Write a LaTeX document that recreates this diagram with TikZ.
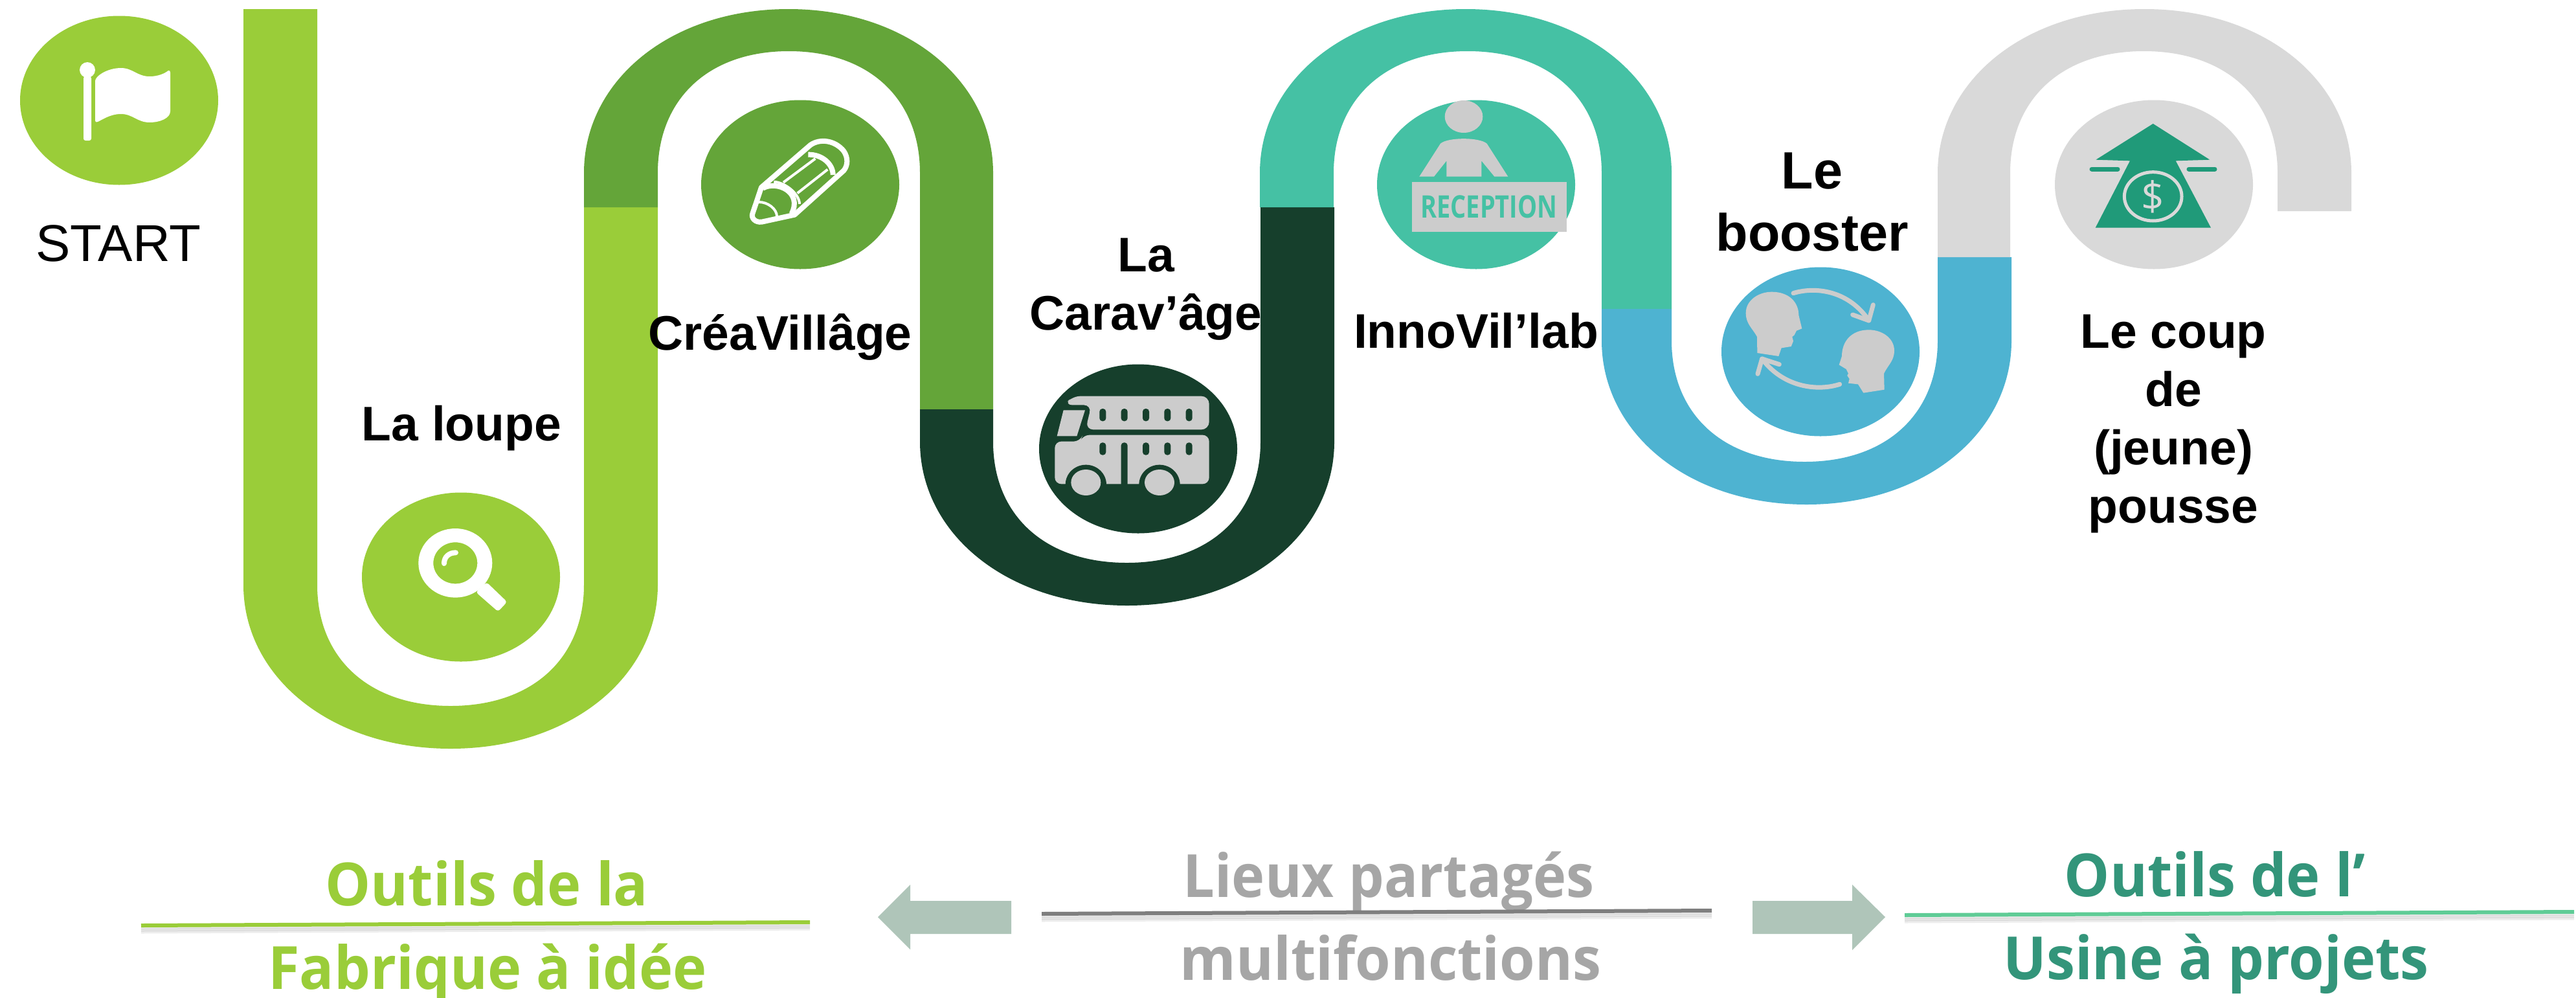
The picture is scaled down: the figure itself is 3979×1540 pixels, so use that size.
\documentclass[tikz,border=0pt]{standalone}
\usepackage{fontspec}
\usepackage{graphicx}
\usetikzlibrary{shapes.geometric}
\setmainfont{Liberation Sans}
\newfontfamily\osans{Open Sans}
\definecolor{segA}{HTML}{9ACD39}
\definecolor{segB}{HTML}{64A539}
\definecolor{segC}{HTML}{163F2C}
\definecolor{segD}{HTML}{45C1A4}
\definecolor{segE}{HTML}{4EB3D1}
\definecolor{segF}{HTML}{D9D9D9}
\definecolor{icongrey}{HTML}{CCCCCC}
\definecolor{arrowfill}{HTML}{AFC5B9}
\definecolor{txtgrey}{HTML}{A6A6A6}
\definecolor{txtteal}{HTML}{33957A}
\definecolor{linegrey}{HTML}{7F7F7F}
\definecolor{lineteal}{HTML}{5FCC96}
\definecolor{dollar}{HTML}{209A79}
\newcommand\pcol{segA}
\newcommand\lowtxt[1]{\scalebox{0.96}[1]{#1}}
% xo1 xi1 xi2 xo2 yL yR ystraight yinner youter
\newcommand\pipe[9]{%
  \pgfmathsetmacro\xmo{(#1+#4)/2}%
  \pgfmathsetmacro\xmi{(#2+#3)/2}%
  \pgfmathsetmacro\co{#7+0.56*(#9-#7)}%
  \pgfmathsetmacro\ci{#7+0.60*(#8-#7)}%
  \pgfmathsetmacro\aol{\xmo-0.58*(\xmo-#1)}%
  \pgfmathsetmacro\aor{\xmo+0.58*(#4-\xmo)}%
  \pgfmathsetmacro\ail{\xmi-0.62*(\xmi-#2)}%
  \pgfmathsetmacro\air{\xmi+0.62*(#3-\xmi)}%
  \fill[\pcol] (#1,#5) -- (#1,#7) .. controls (#1,\co) and (\aol,#9) .. (\xmo,#9)
    .. controls (\aor,#9) and (#4,\co) .. (#4,#7) -- (#4,#6) -- (#3,#6) -- (#3,#7)
    .. controls (#3,\ci) and (\air,#8) .. (\xmi,#8)
    .. controls (\ail,#8) and (#2,\ci) .. (#2,#7) -- (#2,#5) -- cycle;%
}
\tikzset{
  disc/.style={ellipse,inner sep=0pt,outer sep=0pt,minimum width=306pt,minimum height=261pt},
  lab/.style={font=\bfseries\fontsize{75}{90}\selectfont,align=center,inner sep=0pt,text=black},
  low/.style={font=\osans\bfseries\fontsize{92}{110}\selectfont,inner sep=0pt,anchor=base},
  rule/.style={line width=6pt},
  ruleshadow/.style={line width=5pt,draw=black,opacity=0.07},
  sidearrow/.style={fill=arrowfill,draw=none},
  zoomed/.style={x=0.33333pt,y=-0.33333pt},
}
\begin{document}
\begin{tikzpicture}[x=1pt,y=-1pt]
\useasboundingbox (0,0) rectangle (3979,1540);
\fill[white] (0,0) rectangle (3979,1540);

% serpentine
\renewcommand\pcol{segA}\pipe{376}{490}{902}{1016}{14}{320}{903}{1090}{1156}
\renewcommand\pcol{segB}\pipe{902}{1016}{1421}{1534}{320}{632}{267}{79}{14}
\renewcommand\pcol{segC}\pipe{1421}{1534}{1947}{2061}{632}{320}{682}{869}{935}
\renewcommand\pcol{segD}\pipe{1946}{2060}{2474}{2582}{320}{477}{267}{79}{14}
\renewcommand\pcol{segE}\pipe{2474}{2582}{2993}{3107}{477}{397}{526}{713}{779}
\renewcommand\pcol{segF}\pipe{2993}{3105}{3518}{3632}{397}{326}{267}{79}{14}

% discs
\node[disc,fill=segA] (dStart) at (184,155) {};
\node[disc,fill=segA] (dLoupe) at (712,891) {};
\node[disc,fill=segB] (dCrea) at (1236,285) {};
\node[disc,fill=segC] (dCarav) at (1758,693) {};
\node[disc,fill=segD] (dInno) at (2280,285) {};
\node[disc,fill=segE] (dBoost) at (2812,543) {};
\node[disc,fill=segF] (dCoup) at (3327,285) {};

% flag
\begin{scope}[white]
\fill[rounded corners=3pt] (129,118) rectangle (141,217);
\fill (135,108) ellipse[x radius=12,y radius=12];
\fill (147,125) .. controls (147,118) and (165,105) .. (187,105)
  .. controls (205,105) and (212,118) .. (231,118)
  .. controls (245,118) and (255,113) .. (260,109)
  .. controls (262,108) and (263,110) .. (263,112) -- (263,172)
  .. controls (263,182) and (248,189) .. (231,189)
  .. controls (212,189) and (205,176) .. (187,176)
  .. controls (170,176) and (158,185) .. (151,188)
  .. controls (148,189) and (147,188) .. (147,186) -- cycle;
\end{scope}

% magnifier
\begin{scope}[shift={(500,720)},zoomed]
\fill[white,even odd rule] (610,448) ellipse[x radius=171,y radius=160]
   (610,448) ellipse[x radius=102,y radius=96];
\fill[white,rounded corners=4pt] (755,537) -- (850,628) -- (808,673) -- (705,583) -- cycle;
\draw[white,line width=8pt,line cap=round] (558,450) .. controls (558,420) and (580,400) .. (612,400);
\end{scope}

% pencil
\begin{scope}[shift={(1000,150)},zoomed]
\draw[white,line width=8pt,line join=round] (528,418) -- (755,222)
  .. controls (800,190) and (870,200) .. (910,250)
  .. controls (930,280) and (930,315) .. (910,340) -- (682,545)
  -- (530,578) .. controls (500,582) and (480,560) .. (487,540) -- cycle;
\draw[white,line width=8pt] (745,266) .. controls (810,265) and (860,310) .. (860,360);
\draw[white,line width=8pt] (535,422) .. controls (600,385) and (720,440) .. (668,540);
\draw[white,line width=4pt] (515,486) .. controls (560,485) and (600,520) .. (600,552);
\draw[white,line width=4pt] (586,392) .. controls (640,395) and (705,450) .. (705,495);
\draw[white,line width=4pt] (630,395) -- (778,285);
\draw[white,line width=4pt] (695,445) -- (835,335);
\end{scope}

% bus
\begin{scope}[shift={(1500,500)},zoomed]
\fill[icongrey,rounded corners=12pt] (432,376) -- (470,335) -- (1103,335) -- (1103,490) -- (530,490) -- (558,376) -- cycle;
\fill[icongrey] (428,400) -- (528,400) -- (490,520) -- (398,520) -- cycle;
\fill[icongrey,rounded corners=10pt] (388,545) -- (505,545) -- (518,515) -- (1103,515) -- (1103,742) -- (388,742) -- cycle;
\foreach \wx in {532,873} {
  \fill[segC] (\wx,745) ellipse[x radius=95,y radius=92];
  \fill[segC] (\wx-95,745) rectangle (\wx+95,810);
  \fill[icongrey] (\wx,735) ellipse[x radius=69,y radius=60];
}
\foreach \wx in {610,710,810,910,1010} {
  \fill[segC,rounded corners=4.5pt] (\wx-15,393) rectangle (\wx+15,451);
}
\foreach \wx in {610,810,910,1010} {
  \fill[segC,rounded corners=4.5pt] (\wx-15,550) rectangle (\wx+15,608);
}
\fill[segC,rounded corners=4.5pt] (695,550) rectangle (725,770);
\end{scope}

% reception
\begin{scope}[shift={(2050,100)},zoomed]
\fill[icongrey] (633,240) ellipse[x radius=88,y radius=75];
\fill[icongrey] (427,518) -- (525,365) .. controls (560,335) and (705,335) .. (740,365)
  -- (838,518) -- (775,518) -- (715,445) -- (715,518) -- (553,518) -- (553,445) -- (495,518) -- cycle;
\node[rectangle,fill=icongrey,inner sep=0pt,minimum width=239pt,minimum height=77pt] (sign) at (750,657.5) {};
\node[inner sep=0pt,text=segD,font=\osans\bfseries\fontsize{48}{48}\selectfont] (signtext) at (750,657) {\scalebox{0.79}[1]{RECEPTION}};
\end{scope}

% heads
\begin{scope}[shift={(2600,380)},zoomed]
\fill[icongrey] (343,495) -- (342,420) .. controls (320,380) and (290,360) .. (290,310)
  .. controls (290,250) and (350,212) .. (410,212)
  .. controls (490,212) and (535,260) .. (535,320)
  -- (550,382) -- (525,392) -- (515,412) -- (505,420) -- (510,440) -- (500,465) -- (455,472) -- (442,510) -- cycle;
\fill[icongrey] (932,665) -- (930,590) .. controls (950,550) and (978,530) .. (978,485)
  .. controls (978,425) and (920,388) .. (860,388)
  .. controls (780,388) and (735,440) .. (735,510)
  -- (722,550) -- (755,570) -- (765,590) -- (760,600) -- (770,615) -- (765,635) -- (810,640) -- (835,680) -- cycle;
\draw[icongrey,line width=7pt,line cap=round,line join=round]
  (510,218) .. controls (620,185) and (770,210) .. (860,345);
\draw[icongrey,line width=7pt,line cap=round,line join=round]
  (785,318) -- (860,345) -- (880,272);
\draw[icongrey,line width=7pt,line cap=round,line join=round]
  (725,640) .. controls (615,675) and (460,650) .. (365,522);
\draw[icongrey,line width=7pt,line cap=round,line join=round]
  (445,548) -- (365,522) -- (345,592);
\end{scope}

% dollar arrow
\begin{scope}[shift={(3100,130)},zoomed]
\fill[dollar] (677,183) -- (940,350) -- (782,355) -- (945,665) -- (410,665) -- (570,355) -- (412,350) -- cycle;
\draw[dollar,line width=7pt,line cap=round] (393,393) -- (513,393);
\draw[dollar,line width=7pt,line cap=round] (843,393) -- (963,393);
\draw[segF,line width=5pt] (677,520) ellipse[x radius=133,y radius=113];
\node[inner sep=0pt,text=segF,font=\osans\fontsize{62}{62}\selectfont] (dollarsign) at (677,520) {\$};
\end{scope}

% labels
\node[inner sep=0pt,font=\fontsize{80}{90}\selectfont,anchor=base] (tStart) at (183,403) {START};
\node[lab,anchor=base] (tLoupe) at (713,680) {La loupe};
\node[lab,anchor=base] (tCrea) at (1205,540) {CréaVillâge};
\node[lab] (tCarav) at (1770,447) {La\\Carav’âge};
\node[lab,anchor=base] (tInno) at (2280,537) {InnoVil’lab};
\node[lab,font=\bfseries\fontsize{81}{96}\selectfont] (tBoost) at (2799,312) {Le\\booster};
\node[lab] (tCoup) at (3357,654) {Le coup\\de\\(jeune)\\pousse};

% lower legend
\node[low,text=segA] (tA1) at (752,1398) {\lowtxt{Outils de la}};
\node[low,text=segA] (tA2) at (753,1527) {\lowtxt{Fabrique à idée}};
\node[low,text=txtgrey] (tB1) at (2145,1385) {\scalebox{0.94}[1]{Lieux partagés}};
\node[low,text=txtgrey] (tB2) at (2148,1513) {\lowtxt{multifonctions}};
\node[low,text=txtteal] (tC1) at (3421,1384) {\lowtxt{Outils de l’}};
\node[low,text=txtteal] (tC2) at (3423,1512) {\lowtxt{Usine à projets}};

\foreach \dy in {4,7,10} {
  \draw[ruleshadow] (218,1429+\dy) -- (1251,1424+\dy);
  \draw[ruleshadow] (1609,1411+\dy) -- (2644,1406+\dy);
  \draw[ruleshadow] (2942,1413+\dy) -- (3976,1408+\dy);
}
\draw[rule,draw=segA] (218,1429) -- (1251,1424);
\draw[rule,draw=linegrey] (1609,1411) -- (2644,1406);
\draw[rule,draw=lineteal] (2942,1413) -- (3976,1408);

\fill[sidearrow] (1356,1416) -- (1406,1366) -- (1406,1391) -- (1562,1391) -- (1562,1442) -- (1406,1442) -- (1406,1466) -- cycle;
\fill[sidearrow] (2912,1416) -- (2861,1366) -- (2861,1391) -- (2707,1391) -- (2707,1442) -- (2861,1442) -- (2861,1467) -- cycle;
\end{tikzpicture}
\end{document}
